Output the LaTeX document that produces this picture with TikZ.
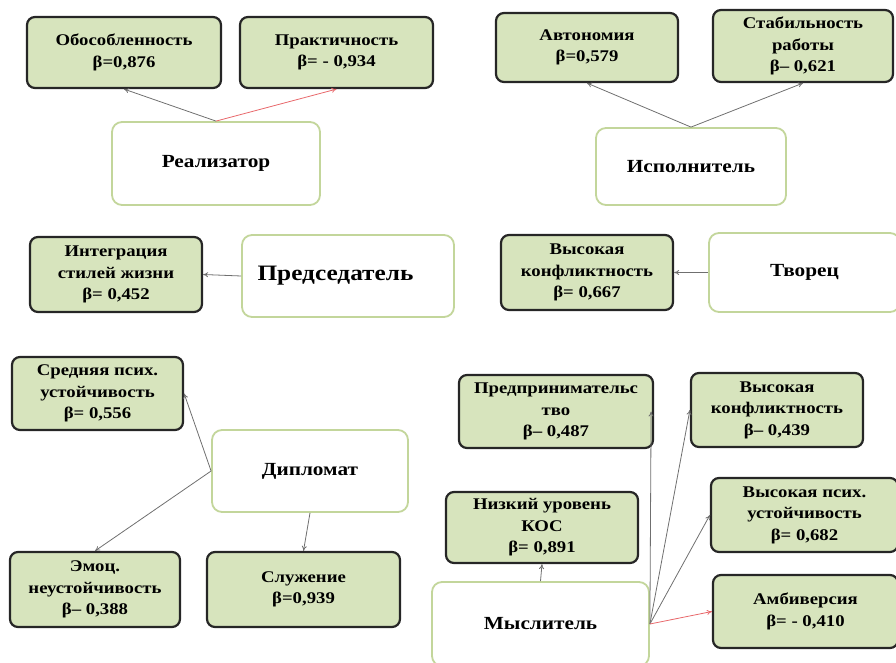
\documentclass[tikz,border=0pt]{standalone}
\usepackage{fontspec}
\setmainfont[FakeStretch=1.15]{Liberation Serif}
\usetikzlibrary{arrows.meta}
\definecolor{greenfill}{HTML}{D7E4BD}
\definecolor{greenline}{HTML}{C3D69B}
\definecolor{boxline}{HTML}{262626}
\definecolor{arrowgray}{HTML}{6F6F6F}
\definecolor{arrowred}{HTML}{E8686B}
\tikzset{
  factor/.style={draw=boxline, line width=2.2pt, fill=greenfill, rounded corners=8pt,
    align=center, inner sep=1pt, font=\fontsize{16.3}{21.5}\selectfont\bfseries},
  role/.style={draw=greenline, line width=1.8pt, fill=white, rounded corners=10pt,
    inner sep=2pt, font=\fontsize{18.5}{22}\selectfont\bfseries},
  link/.style={draw=arrowgray, line width=0.8pt, -{To[length=5pt,width=5pt]}},
  redlink/.style={link, draw=arrowred}
}
\begin{document}
\begin{tikzpicture}[x=1pt,y=-1pt]
\useasboundingbox (0,0) rectangle (896,663);
% top-left
\node[factor, minimum width=194pt, minimum height=71pt] (obo) at (124,52.5) {Обособленность\\β=0,876};
\node[factor, minimum width=193pt, minimum height=71pt] (prak) at (336.5,52.5) {Практичность\\β= - 0,934};
\node[role, minimum width=208pt, minimum height=83pt] (real) at (216,163.5) {Реализатор};
% top-right
\node[factor, minimum width=182pt, minimum height=69pt] (avt) at (587,47.5) {Автономия\\β=0,579};
\node[factor, minimum width=180pt, minimum height=72pt] (stab) at (803,46) {Стабильность\\работы\\β– 0,621};
\node[role, minimum width=190pt, minimum height=77pt] (isp) at (691,166.5) {Исполнитель};
% middle
\node[factor, minimum width=172pt, minimum height=75pt] (integ) at (116,274.5) {Интеграция\\стилей жизни\\β= 0,452};
\node[role, minimum width=212pt, minimum height=82pt, font=\fontsize{22}{26}\selectfont\bfseries] (pred) at (348,276) {Председатель\kern25pt};
\node[factor, minimum width=172pt, minimum height=75pt] (vk1) at (587,272.5) {Высокая\\конфликтность\\β= 0,667};
\node[role, minimum width=191pt, minimum height=79pt] (tvor) at (804.5,272.5) {Творец};
% bottom-left
\node[factor, minimum width=171pt, minimum height=73pt] (sred) at (97.5,393.5) {Средняя псих.\\устойчивость\\β= 0,556};
\node[role, minimum width=196pt, minimum height=82pt] (dipl) at (310,471) {Дипломат};
\node[factor, minimum width=170pt, minimum height=75pt] (emoc) at (95,589.5) {Эмоц.\\неустойчивость\\β– 0,388};
\node[factor, minimum width=193pt, minimum height=75pt] (sluz) at (303.5,589.5) {Служение\\β=0,939};
% bottom-right
\node[factor, minimum width=194pt, minimum height=73pt] (predpr) at (556,411.5) {Предпринимательс\\тво\\β– 0,487};
\node[factor, minimum width=172pt, minimum height=74pt] (vk2) at (777,410) {Высокая\\конфликтность\\β– 0,439};
\node[factor, minimum width=192pt, minimum height=71pt] (kos) at (542,527.5) {Низкий уровень\\КОС\\β= 0,891};
\node[factor, minimum width=187pt, minimum height=74pt] (vps) at (804.5,515) {Высокая псих.\\устойчивость\\β= 0,682};
\node[factor, minimum width=185pt, minimum height=73pt] (amb) at (805.5,611.5) {Амбиверсия\\β= - 0,410};
\node[role, minimum width=217pt, minimum height=84pt] (mysl) at (540.5,624) {Мыслитель};
% connectors
\draw[link] (real.north) -- (obo.south);
\draw[redlink] (real.north) -- (prak.south);
\draw[link] (isp.north) -- (avt.south);
\draw[link] (isp.north) -- (stab.south);
\draw[link] (pred.west) -- (integ.east);
\draw[link] (tvor.west) -- (vk1.east);
\draw[link] (dipl.west) -- (sred.east);
\draw[link] (dipl.west) -- (emoc.north);
\draw[link] (dipl.south) -- (sluz.north);
\draw[link] (mysl.east) -- ([xshift=-3pt]predpr.east);
\draw[link] (mysl.east) -- (vk2.west);
\draw[link] (mysl.east) -- (vps.west);
\draw[redlink] (mysl.east) -- (amb.west);
\draw[link] (mysl.north) -- (kos.south);
\end{tikzpicture}
\end{document}
